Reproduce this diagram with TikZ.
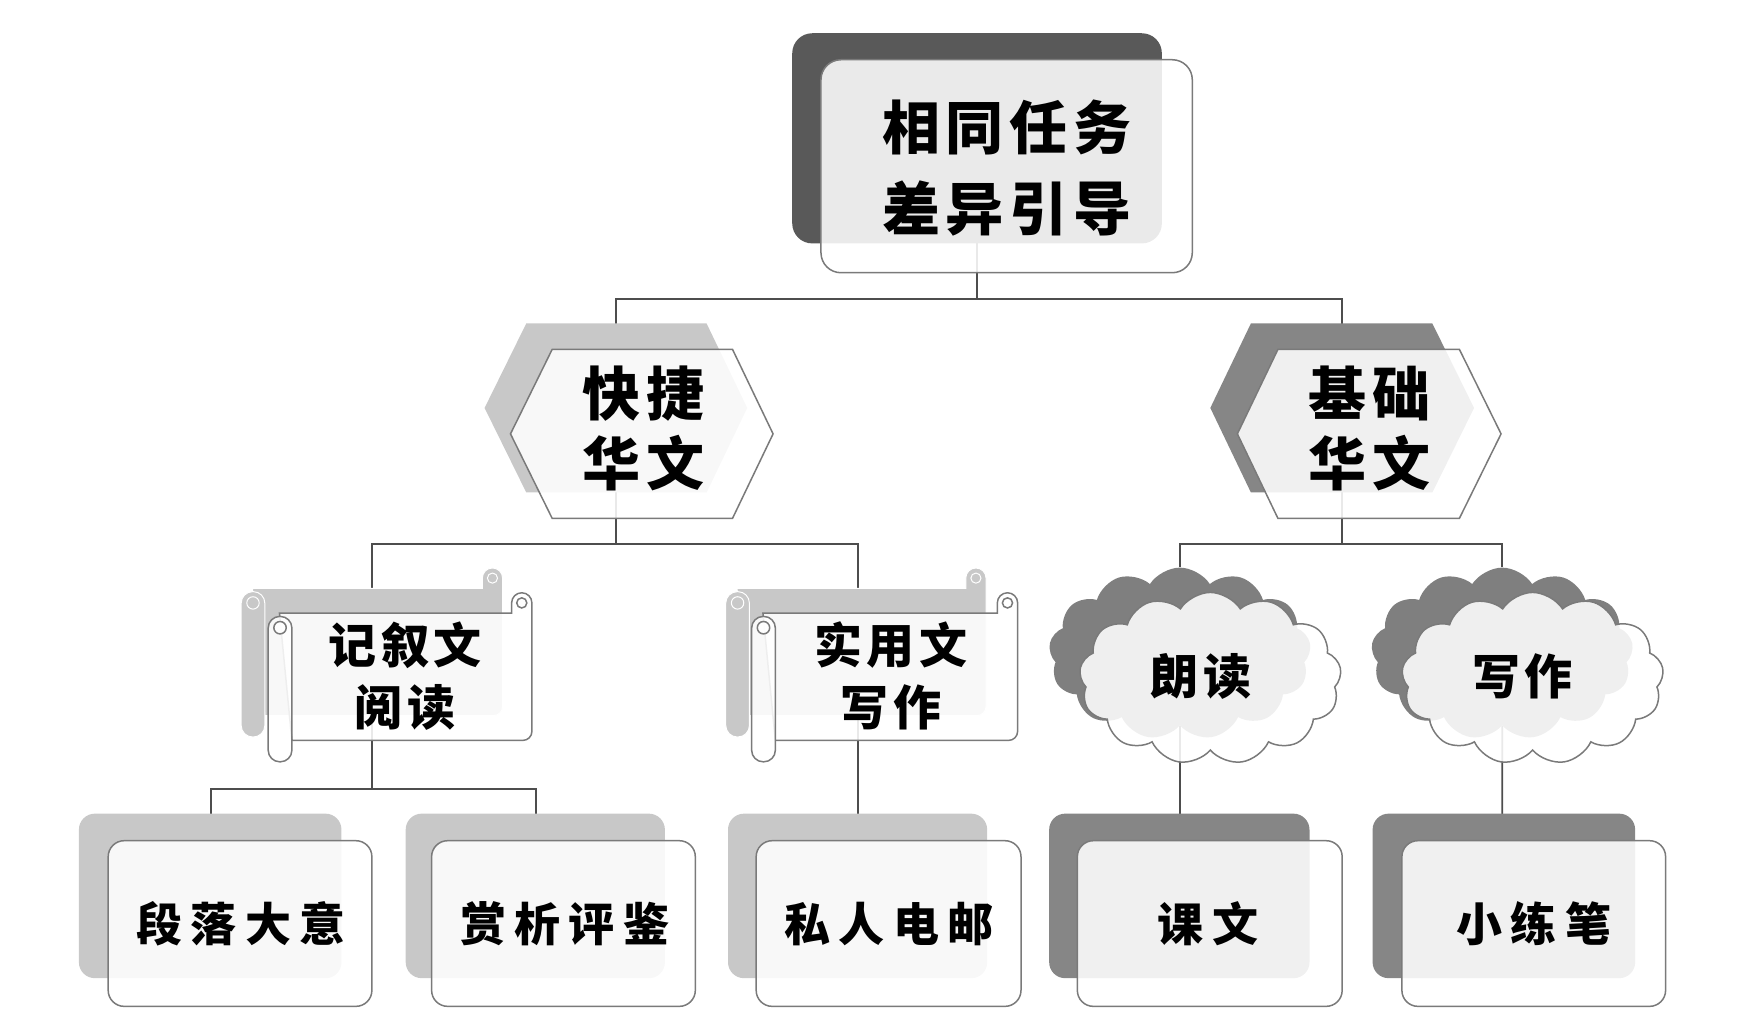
\documentclass[tikz,border=0pt]{standalone}
\usepackage{fontspec}
\newfontfamily\cjk{Noto Sans CJK SC}[LetterSpace=10]
\newfontfamily\cjkw{Noto Sans CJK SC}[LetterSpace=18]
\usetikzlibrary{shapes.symbols}
\pgfdeclarelayer{bg}
\pgfsetlayers{bg,main}
\definecolor{lg}{HTML}{C8C8C8}
\definecolor{mg}{HTML}{868686}
\definecolor{dg}{HTML}{595959}
\definecolor{cg}{HTML}{7F7F7F}
\definecolor{edgec}{HTML}{7A7A7A}
\definecolor{connc}{HTML}{4D4D4D}
\newcommand\myscroll[5]{%
  \path[#5] ({#1+10},#3) -- ({#2-18},#3) -- ({#2-18},{#3-9})
     arc[start angle=180,end angle=360,radius=9] -- (#2,{#4-8})
     arc[start angle=0,end angle=90,radius=8] -- ({#1+21},#4) -- cycle;
  \path[#5] ({#2-9},{#3-9}) circle[radius=4.5];
  \path[#5,rounded corners=11.5pt] (#1,{#3+3}) rectangle ({#1+21},{#4+19});
  \path[#5] ({#1+10.5},{#3+13}) circle[radius=5.5];
}
\begin{document}
\begin{tikzpicture}[x=1.12692pt,y=-1.12692pt,
  front/.style={draw=edgec,line width=1.5pt,fill=white,fill opacity=.88},
  frontsolid/.style={draw=edgec,line width=1.5pt,fill=white},
  backl/.style={fill=lg,draw=white,line width=1pt},
  conn/.style={draw=connc,line width=1.8pt},
  lab/.style={text=black,align=center,inner sep=0pt},
  cloudbox/.style={shape=cloud,cloud puffs=13,cloud puff arc=115,cloud ignores aspect,
     minimum width=262pt,minimum height=172pt,inner sep=0pt},
  bigt/.style={lab,font=\cjk\bfseries\fontsize{58}{81}\selectfont},
  hext/.style={lab,font=\cjk\bfseries\fontsize{58}{70}\selectfont},
  scrt/.style={lab,font=\cjk\bfseries\fontsize{48}{62}\selectfont},
  clt/.style={lab,font=\cjk\bfseries\fontsize{48}{58}\selectfont},
  bott/.style={lab,font=\cjkw\bfseries\fontsize{46}{55}\selectfont}]
\useasboundingbox (0,0) rectangle (1560,912.2);
% bus levels
\coordinate (y1) at (0,265);
\coordinate (y2) at (0,483);
\coordinate (y3) at (0,700);
% ---------- top box
\fill[dg,rounded corners=20pt] (703,29.5) rectangle (1031,216);
\coordinate (topB) at (867,123);
\draw[front,rounded corners=20pt] (728.5,53) rectangle (1058,242);
\node[bigt] (top) at (893.5,149) {相同任务\\差异引导};
% ---------- hexagon 1
\fill[lg] (430,362) -- (467,287) -- (627,287) -- (663,362) -- (627,437) -- (467,437) -- cycle;
\coordinate (h1B) at (546.5,362);
\draw[front] (453,385) -- (490,310) -- (650,310) -- (686,385) -- (650,460) -- (490,460) -- cycle;
\node[hext] (hexA) at (571,380) {快捷\\华文};
% ---------- hexagon 2
\fill[mg] (1074,362) -- (1110,287) -- (1271,287) -- (1308,362) -- (1271,437) -- (1110,437) -- cycle;
\coordinate (h2B) at (1191,362);
\draw[front] (1098,385) -- (1134,310) -- (1295,310) -- (1332,385) -- (1295,460) -- (1134,460) -- cycle;
\node[hext] (hexB) at (1215,380) {基础\\华文};
% ---------- scrolls
\myscroll{214}{446}{522}{635}{backl}
\coordinate (s1B) at (330,585);
\myscroll{238}{472}{544}{657}{frontsolid,fill opacity=.88}
\node[scrt] (scrA) at (359.5,600) {记叙文\\阅读};
\myscroll{644}{875}{522}{635}{backl}
\coordinate (s2B) at (761,585);
\myscroll{667}{903}{544}{657}{frontsolid,fill opacity=.88}
\node[scrt] (scrB) at (790.5,600) {实用文\\写作};
% ---------- clouds
\node[cloudbox,fill=cg] (c1B) at (1047,580) {};
\node[cloudbox,front] (c1F) at (1074,602) {};
\node[clt] (cloA) at (1066,600) {朗读};
\node[cloudbox,fill=cg] (c2B) at (1333,580) {};
\node[cloudbox,front] (c2F) at (1360,602) {};
\node[clt] (cloB) at (1351,600) {写作};
% ---------- bottom boxes
\fill[lg,rounded corners=16pt] (70,722) rectangle (303,868);
\coordinate (b1B) at (187,795);
\draw[front,rounded corners=16pt] (96,746) rectangle (330,893);
\node[bott] (botA) at (214,820) {段落大意};
\fill[lg,rounded corners=16pt] (360,722) rectangle (590,868);
\coordinate (b2B) at (475.5,795);
\draw[front,rounded corners=16pt] (383,746) rectangle (617,893);
\node[bott] (botB) at (501,820) {赏析评鉴};
\fill[lg,rounded corners=16pt] (646,722) rectangle (876,868);
\coordinate (b3B) at (761,795);
\draw[front,rounded corners=16pt] (671,746) rectangle (906,893);
\node[bott] (botC) at (789,820) {私人电邮};
\fill[mg,rounded corners=16pt] (931,722) rectangle (1162,868);
\coordinate (b4B) at (1047,795);
\draw[front,rounded corners=16pt] (956,746) rectangle (1191,893);
\node[bott] (botD) at (1072,820) {课文};
\fill[mg,rounded corners=16pt] (1218,722) rectangle (1451,868);
\coordinate (b5B) at (1333,795);
\draw[front,rounded corners=16pt] (1244,746) rectangle (1478,893);
\node[bott] (botE) at (1361,820) {小练笔};
% ---------- connectors (behind)
\begin{pgfonlayer}{bg}
\draw[conn] (topB) -- (topB |- y1) -| (h1B);
\draw[conn] (topB |- y1) -| (h2B);
\draw[conn] (h1B) -- (h1B |- y2) -| (s1B);
\draw[conn] (h1B |- y2) -| (s2B);
\draw[conn] (h2B) -- (h2B |- y2) -| (c1B);
\draw[conn] (h2B |- y2) -| (c2B);
\draw[conn] (s1B) -- (s1B |- y3) -| (b1B);
\draw[conn] (s1B |- y3) -| (b2B);
\draw[conn] (s2B) -- (b3B);
\draw[conn] (c1B) -- (c1B |- b4B);
\draw[conn] (c2B) -- (c2B |- b5B);
\end{pgfonlayer}
\end{tikzpicture}
\end{document}
